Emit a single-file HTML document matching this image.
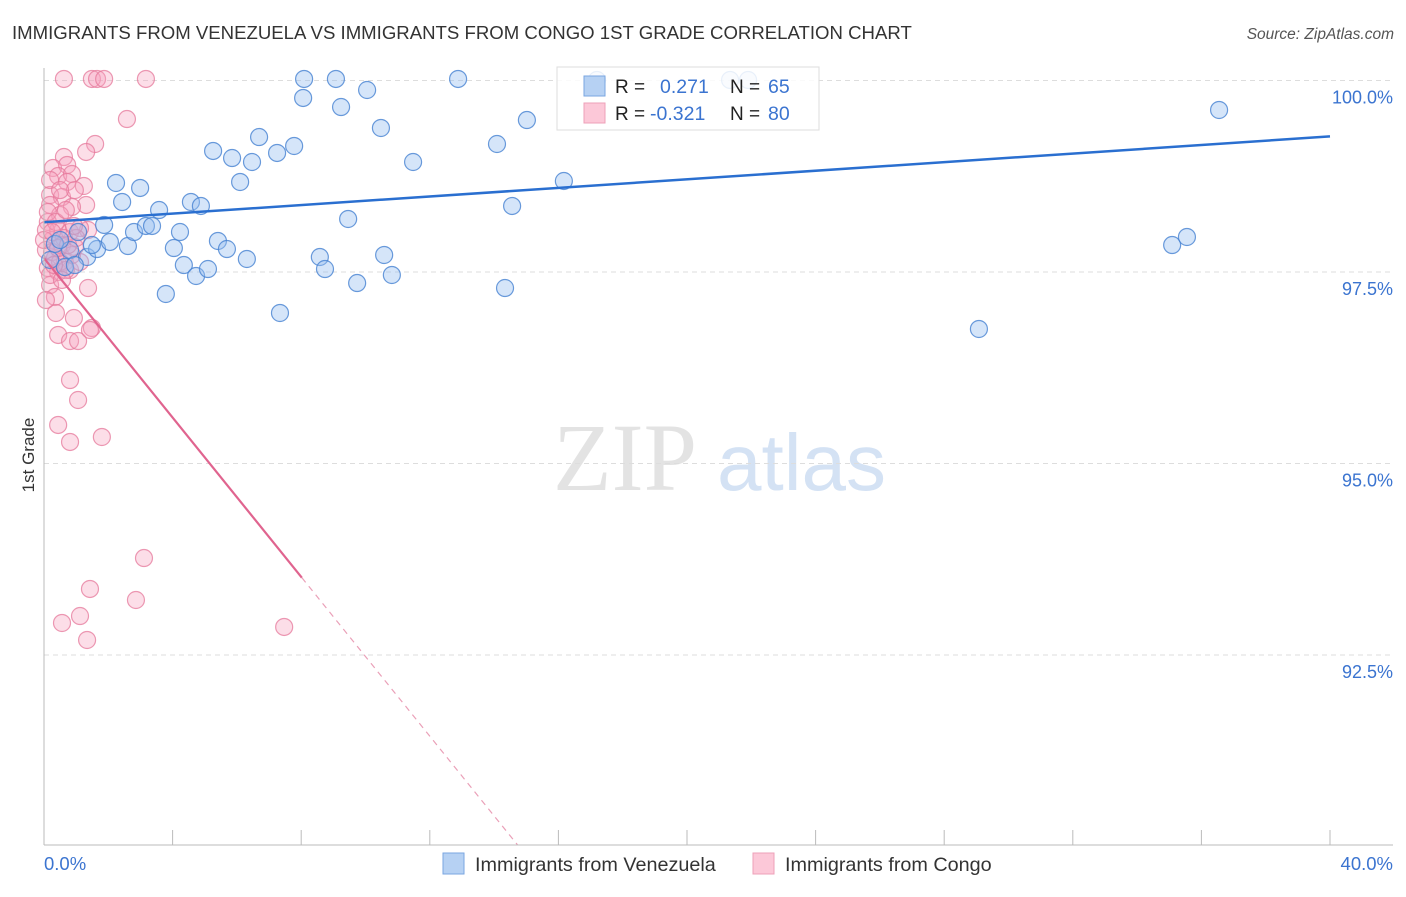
<!DOCTYPE html>
<html><head><meta charset="utf-8"><style>
body{margin:0;background:#fff;font-family:"Liberation Sans",sans-serif;}
</style></head><body>
<svg id="c" width="1406" height="892" xmlns="http://www.w3.org/2000/svg">
<text x="12" y="39" font-size="18.6" fill="#333">IMMIGRANTS FROM VENEZUELA VS IMMIGRANTS FROM CONGO 1ST GRADE CORRELATION CHART</text>
<text x="1394" y="39" font-size="15.5" fill="#555" font-style="italic" text-anchor="end">Source: ZipAtlas.com</text>
<text x="34" y="455" font-size="17" fill="#333" text-anchor="middle" transform="rotate(-90 34 455)">1st Grade</text>
<text x="553" y="490" font-size="96" fill="#e3e3e3" font-family="Liberation Serif,serif">ZIP</text>
<text x="717" y="490" font-size="80" fill="#d4e2f4">atlas</text>
<g id="grid"></g><g id="pts"></g><g id="lines"></g>
<line x1="44" y1="68" x2="44" y2="845" stroke="#bbb"/>
<line x1="44" y1="845" x2="1393" y2="845" stroke="#bbb"/>
<text x="44" y="870" font-size="18.5" fill="#3b74d0">0.0%</text>
<text x="1393" y="870" font-size="18.5" fill="#3b74d0" text-anchor="end">40.0%</text>
<g>
<rect x="557" y="67" width="262" height="63" fill="#fff" fill-opacity="0.85" stroke="#ddd"/>
<rect x="584" y="76" width="21" height="20" fill="#b6d1f3" stroke="#7aa6e0"/>
<rect x="584" y="103" width="21" height="20" fill="#fcc8d8" stroke="#eea0b8"/>
<text x="615" y="93" font-size="19" fill="#222">R = </text><text x="660" y="93" font-size="19.5" fill="#3b74d0">0.271</text>
<text x="730" y="93" font-size="19" fill="#222">N = </text><text x="768" y="93" font-size="19.5" fill="#3b74d0">65</text>
<text x="615" y="120" font-size="19" fill="#222">R = </text><text x="650" y="120" font-size="19.5" fill="#3b74d0">-0.321</text>
<text x="730" y="120" font-size="19" fill="#222">N = </text><text x="768" y="120" font-size="19.5" fill="#3b74d0">80</text>
</g>
<g>
<rect x="443" y="853" width="21" height="21" fill="#b6d1f3" stroke="#7aa6e0"/>
<text x="475" y="871" font-size="19.8" fill="#333">Immigrants from Venezuela</text>
<rect x="753" y="853" width="21" height="21" fill="#fcc8d8" stroke="#eea0b8"/>
<text x="785" y="871" font-size="19.8" fill="#333">Immigrants from Congo</text>
</g>
</svg>
<script>
const yTicks=[100,97.5,95,92.5];
const yTickLabels=["100.0%","97.5%","95.0%","92.5%"];
const xTicks=[0,4,8,12,16,20,24,28,32,36,40];
const bluePx=[[65,267],[87,257],[97,249],[104,225],[110,242],[116,183],[122,202],[128,246],[134,232],[140,188],[146,226],[152,226],[159,210],[166,294],[174,248],[180,232],[184,265],[191,202],[196,276],[201,206],[208,269],[213,151],[218,241],[227,249],[232,158],[240,182],[247,259],[252,162],[259,137],[277,153],[280,313],[294,146],[303,98],[304,79],[320,257],[325,269],[336,79],[341,107],[348,219],[357,283],[367,90],[381,128],[384,255],[392,275],[413,162],[458,79],[497,144],[505,288],[512,206],[527,120],[564,181],[597,80],[730,80],[748,80],[979,329],[1172,245],[1187,237],[1219,110],[55,244],[78,232],[70,250],[92,245],[50,260],[60,240],[75,265]];
const pinkPx=[[64,79],[92,79],[97,79],[104,79],[146,79],[127,119],[95,144],[86,152],[64,157],[53,168],[67,165],[58,176],[72,174],[84,186],[67,182],[50,195],[62,197],[75,190],[86,205],[72,207],[50,205],[60,215],[48,222],[58,230],[70,232],[88,230],[52,240],[62,245],[75,247],[46,250],[55,258],[65,262],[48,268],[58,272],[70,270],[80,262],[50,285],[55,297],[88,288],[56,313],[74,318],[92,328],[58,335],[70,341],[78,341],[70,380],[78,400],[58,425],[70,442],[102,437],[144,558],[90,589],[136,600],[80,616],[62,623],[87,640],[284,627],[46,230],[52,252],[60,262],[66,270],[44,240],[48,212],[56,222],[64,238],[72,255],[50,275],[58,248],[80,228],[62,280],[46,300],[54,265],[68,245],[76,238],[50,180],[60,190],[66,210],[52,232],[90,330],[74,226]];
const blueX=bluePx.map(p=>+((p[0]-44)/1286*40).toFixed(2));
const blueY=bluePx.map(p=>+(100-(p[1]-80.5)/191.5*2.5).toFixed(3));
const pinkX=pinkPx.map(p=>+((p[0]-44)/1286*40).toFixed(2));
const pinkY=pinkPx.map(p=>+(100-(p[1]-80.5)/191.5*2.5).toFixed(3));
const blueTrend=[98.15,99.27];   // y at x=0 and x=40
const pinkTrend=[97.68,-0.52];   // intercept, slope per %
const pinkSolidEnd=8.02;
const xs=v=>44+v/40*1286, ys=v=>80.5+(100-v)/2.5*191.5;
const NS="http://www.w3.org/2000/svg";
function mk(t,a,p){const e=document.createElementNS(NS,t);for(const k in a)e.setAttribute(k,a[k]);p.appendChild(e);return e;}
const grid=document.getElementById('grid');
yTicks.forEach((v,i)=>{
 const l=mk('line',{x1:44,x2:1393,y1:ys(v),y2:ys(v),stroke:'#ddd','stroke-dasharray':'5,4'},grid);
 
 
 const t=mk('text',{x:1393,y:ys(v)+23,'font-size':18,fill:'#3b74d0','text-anchor':'end'},grid);
 t.textContent=yTickLabels[i];
 
 
});
xTicks.forEach(v=>{
 const l=mk('line',{x1:xs(v),x2:xs(v),y1:830,y2:845,stroke:'#bbb'},grid);
 
 
});
const pts=document.getElementById('pts');
pinkX.forEach((x,i)=>{
 const c=mk('circle',{cx:xs(x),cy:ys(pinkY[i]),r:8.5,fill:'rgba(246,160,190,0.35)',stroke:'rgba(230,120,155,0.75)','stroke-width':1.2},pts);
 
 
});
blueX.forEach((x,i)=>{
 const c=mk('circle',{cx:xs(x),cy:ys(blueY[i]),r:8.5,fill:'rgba(150,190,240,0.4)',stroke:'rgba(70,130,210,0.8)','stroke-width':1.2},pts);
 
 
});
const lines=document.getElementById('lines');
const b=mk('line',{x1:xs(0),y1:ys(blueTrend[0]),x2:xs(40),y2:ys(blueTrend[1]),stroke:'#2a6fd0','stroke-width':2.5},lines);


const pf=x=>pinkTrend[0]+pinkTrend[1]*x;
const p1=mk('line',{x1:xs(0),y1:ys(pf(0)),x2:xs(pinkSolidEnd),y2:ys(pf(pinkSolidEnd)),stroke:'#e0648f','stroke-width':2.2},lines);


const yBottom=100-(845-80.5)/191.5*2.5;
const xEnd=(yBottom-pinkTrend[0])/pinkTrend[1];
const p2=mk('line',{x1:xs(pinkSolidEnd),y1:ys(pf(pinkSolidEnd)),x2:xs(xEnd),y2:ys(pf(xEnd)),stroke:'#eaa0b8','stroke-width':1.2,'stroke-dasharray':'6,5'},lines);


</script>
</body></html>
